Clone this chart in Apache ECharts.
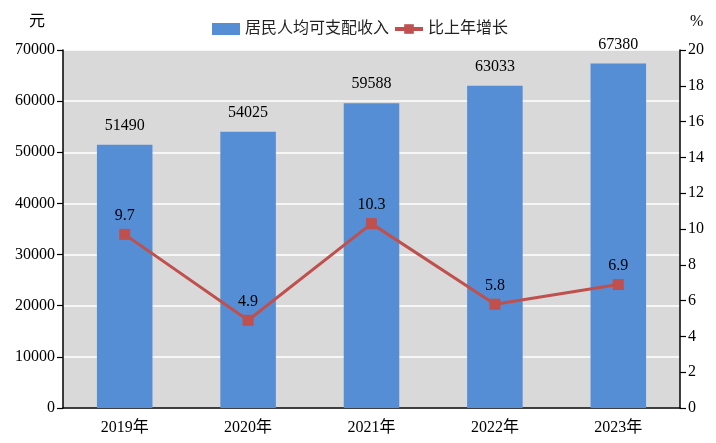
<!DOCTYPE html>
<html style="height: 100%; margin: 0; padding: 0;">
<head>
    <meta charset="utf-8">
    <title>居民人均可支配收入</title>
    <script src="https://cdn.jsdelivr.net/npm/echarts@6/dist/echarts.min.js"></script>
    <style>
        body, html {
            height: 100%;
            margin: 0;
            padding: 0;
            background-color: #ffffff;
        }
        #main {
            width: 716px;
            height: 443px;
        }
    </style>
</head>
<body>
<div id="main"></div>
<script type="text/javascript">
    // 数据
    var years = ['2019年', '2020年', '2021年', '2022年', '2023年'];
    var income = [51490, 54025, 59588, 63033, 67380];
    var growth = [9.7, 4.9, 10.3, 5.8, 6.9];

    var fontFam = '"Liberation Serif", "Times New Roman", "Noto Sans CJK SC", serif';

    var myChart = echarts.init(document.getElementById('main'));

    var option = {
        animation: false,
        textStyle: { fontFamily: fontFam, color: '#000' },
        grid: { left: 63, right: 36, top: 50, bottom: 35 },
        legend: {
            top: 16,
            left: 207,
            itemGap: 4,
            itemWidth: 28,
            itemHeight: 12,
            textStyle: { fontSize: 16, color: '#222', fontFamily: fontFam },
            data: [
                { name: '居民人均可支配收入', icon: 'rect' },
                { name: '比上年增长', lineStyle: { width: 4 } }
            ]
        },
        xAxis: {
            type: 'category',
            data: years,
            axisLine: { lineStyle: { color: '#000', width: 1.5 } },
            axisTick: { show: false },
            axisLabel: { fontSize: 16, color: '#000', margin: 12, fontFamily: fontFam }
        },
        yAxis: [
            {
                type: 'value',
                name: '元',
                nameLocation: 'end',
                nameGap: 20,
                nameTextStyle: { fontSize: 16, color: '#000', align: 'right', padding: [0, 18, 0, 0] },
                min: 0,
                max: 70000,
                interval: 10000,
                axisLine: { show: true, lineStyle: { color: '#000', width: 1.5 } },
                axisTick: { show: true, inside: false, length: 6, lineStyle: { color: '#000', width: 1.2 } },
                axisLabel: {
                    fontSize: 16, color: '#000', margin: 8, fontFamily: fontFam,
                    formatter: function (v) { return String(v); }
                },
                splitLine: { show: true, lineStyle: { color: '#ffffff', width: 1.5 } },
                splitArea: { show: true, areaStyle: { color: ['#d9d9d9', '#d9d9d9'] } }
            },
            {
                type: 'value',
                name: '%',
                nameLocation: 'end',
                nameGap: 20,
                nameTextStyle: { fontSize: 16, color: '#000', align: 'left', padding: [0, 0, 0, 10] },
                min: 0,
                max: 20,
                interval: 2,
                axisLine: { show: true, lineStyle: { color: '#000', width: 1.5 } },
                axisTick: { show: true, inside: false, length: 6, lineStyle: { color: '#000', width: 1.2 } },
                axisLabel: { fontSize: 16, color: '#000', margin: 8, fontFamily: fontFam },
                splitLine: { show: false }
            }
        ],
        series: [
            {
                name: '居民人均可支配收入',
                type: 'bar',
                data: income,
                barWidth: '45%',
                itemStyle: { color: '#558ed5' },
                label: {
                    show: true,
                    position: 'top',
                    distance: 11,
                    fontSize: 16,
                    color: '#000',
                    fontFamily: fontFam
                }
            },
            {
                name: '比上年增长',
                type: 'line',
                yAxisIndex: 1,
                data: growth,
                symbol: 'rect',
                symbolSize: 11,
                lineStyle: { color: '#c0504d', width: 3 },
                itemStyle: { color: '#c0504d' },
                label: {
                    show: true,
                    position: 'top',
                    distance: 5,
                    fontSize: 16,
                    color: '#000',
                    fontFamily: fontFam
                }
            }
        ]
    };

    myChart.setOption(option);
</script>
</body>
</html>
